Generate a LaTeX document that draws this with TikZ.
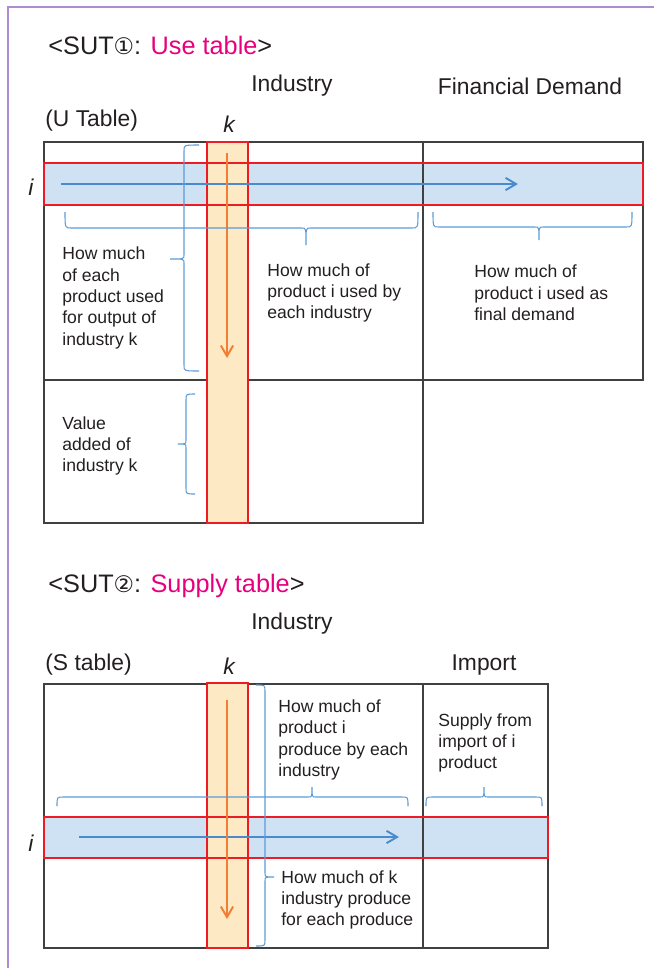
\documentclass[tikz,border=0pt]{standalone}
\usepackage{fontspec}
\setmainfont{Liberation Sans}
\newfontfamily\symfont{DejaVu Sans}
\usepackage{tikz}
\usetikzlibrary{arrows.meta}
\definecolor{framepurple}{RGB}{172,140,212}
\definecolor{sutpink}{RGB}{230,0,126}
\definecolor{rowblue}{RGB}{207,226,243}
\definecolor{colorange}{RGB}{253,233,196}
\definecolor{boxred}{RGB}{237,28,36}
\definecolor{arrblue}{RGB}{74,139,206}
\definecolor{arrorange}{RGB}{243,125,52}
\definecolor{bracecol}{RGB}{91,155,213}
\definecolor{textgray}{RGB}{35,31,32}
\tikzset{%
	tabline/.style  = {draw=black!75, line width=0.85pt},
	redbox/.style   = {draw=boxred, line width=1.4pt},
	rowarrow/.style = {arrblue, line width=1.1pt, -{Straight Barb[length=6pt,width=7pt]}},
	colarrow/.style = {arrorange, line width=1.1pt, -{Straight Barb[length=6pt,width=7pt]}},
	brc/.style      = {bracecol, line width=0.6pt},
	head/.style     = {inner sep=0pt, text=textgray, font=\fontsize{13}{15}\selectfont},
	title/.style    = {inner sep=0pt, anchor=west, text=textgray, font=\fontsize{14.4}{16}\selectfont},
	note/.style     = {inner sep=0pt, anchor=west, align=left, text=textgray, font=\fontsize{10}{12.2}\selectfont},
}
\newcommand{\hbrc}[6]{\draw[brc] (#1,#4) .. controls (#1,#5) .. (#1+6,#5) -- (#3-4,#5) .. controls (#3,#5) .. (#3,#6) .. controls (#3,#5) .. (#3+4,#5) -- (#2-6,#5) .. controls (#2,#5) .. (#2,#4);}
\newcommand{\vbrc}[6]{\draw[brc] (#4,#1) .. controls (#5,#1) .. (#5,#1+6) -- (#5,#3-4) .. controls (#5,#3) .. (#6,#3) .. controls (#5,#3) .. (#5,#3+4) -- (#5,#2-6) .. controls (#5,#2) .. (#4,#2);}

\begin{document}
\begin{tikzpicture}[x=0.02cm,y=-0.02cm]
		\useasboundingbox (0,0) rectangle (654,968);
		\draw[framepurple,line width=0.9pt] (8,968) -- (8,7) -- (654,7);
		
		\node[title] (utitle) at (48,45) {<SUT{\symfont\fontsize{13}{15}\selectfont ①}: \textcolor{sutpink}{Use table}>};
		\node[head] (uind) at (292,86) {Industry};
		\node[head] (ufd) at (530,86) {Financial Demand};
		\node[head,anchor=west] (utab) at (45,121) {(U Table)};
		\node[head] (uk) at (229,124) {\itshape k};
		\node[head] (ui) at (31,187) {\itshape i};
		
		\fill[rowblue] (44,163) rectangle (643,205);
		\draw[tabline] (44,142) rectangle (643,380);
		\draw[tabline] (44,380) rectangle (423,523);
		\draw[tabline] (423,142) -- (423,380);
		\fill[colorange] (207,142) rectangle (248,523);
		\draw[redbox] (44,163) rectangle (643,205);
		\draw[redbox] (207,142) rectangle (248,523);
		
		\coordinate (ua0) at (61,184);
		\coordinate (ua1) at (518,184);
		\coordinate (uc0) at (227,153);
		\coordinate (uc1) at (227,358);
		\draw[rowarrow] (ua0) -- (ua1);
		\draw[colarrow] (uc0) -- (uc1);
		
		\vbrc{145}{371}{259}{199}{184}{170}
		\vbrc{394}{494}{444}{195}{186}{178}
		\hbrc{65}{418}{306}{212}{228}{245}
		\hbrc{433}{632}{539}{212}{227}{240}
		
		\node[note] (uused) at (62,298) {How much\\of each\\product used\\for output of\\industry k};
		\node[note] (ueach) at (267,293) {How much of\\product i used by\\each industry};
		\node[note] (ufinal) at (474,293) {How much of\\product i used as\\final demand};
		\node[note] (uvalue) at (62,446) {Value\\added of\\industry k};
		
		\node[title] (stitle) at (48,586) {<SUT{\symfont\fontsize{13}{15}\selectfont ②}: \textcolor{sutpink}{Supply table}>};
		\node[head] (sind) at (292,624) {Industry};
		\node[head,anchor=west] (stab) at (45,665) {(S table)};
		\node[head] (sk) at (229,666) {\itshape k};
		\node[head] (simp) at (484,665) {Import};
		\node[head] (si) at (31,843) {\itshape i};
		
		\fill[rowblue] (44,817) rectangle (548,858);
		\draw[tabline] (44,684) rectangle (548,948);
		\draw[tabline] (423,684) -- (423,948);
		\fill[colorange] (207,683) rectangle (248,948);
		\draw[redbox] (44,817) rectangle (548,858);
		\draw[redbox] (207,683) rectangle (248,948);
		
		\coordinate (sa0) at (79,837);
		\coordinate (sa1) at (399,837);
		\coordinate (sc0) at (227,700);
		\coordinate (sc1) at (227,919);
		\draw[rowarrow] (sa0) -- (sa1);
		\draw[colarrow] (sc0) -- (sc1);
		
		\vbrc{685}{946}{877}{256}{265}{274}
		\hbrc{57}{408}{312}{806}{797}{787}
		\hbrc{426}{542}{484}{806}{797}{787}
		
		\node[note] (sprod) at (278,740) {How much of\\product i\\produce by each\\industry};
		\node[note] (ssupply) at (438,743) {Supply from\\import of i\\product};
		\node[note] (skind) at (281,900) {How much of k\\industry produce\\for each produce};
	\end{tikzpicture}
\end{document}
